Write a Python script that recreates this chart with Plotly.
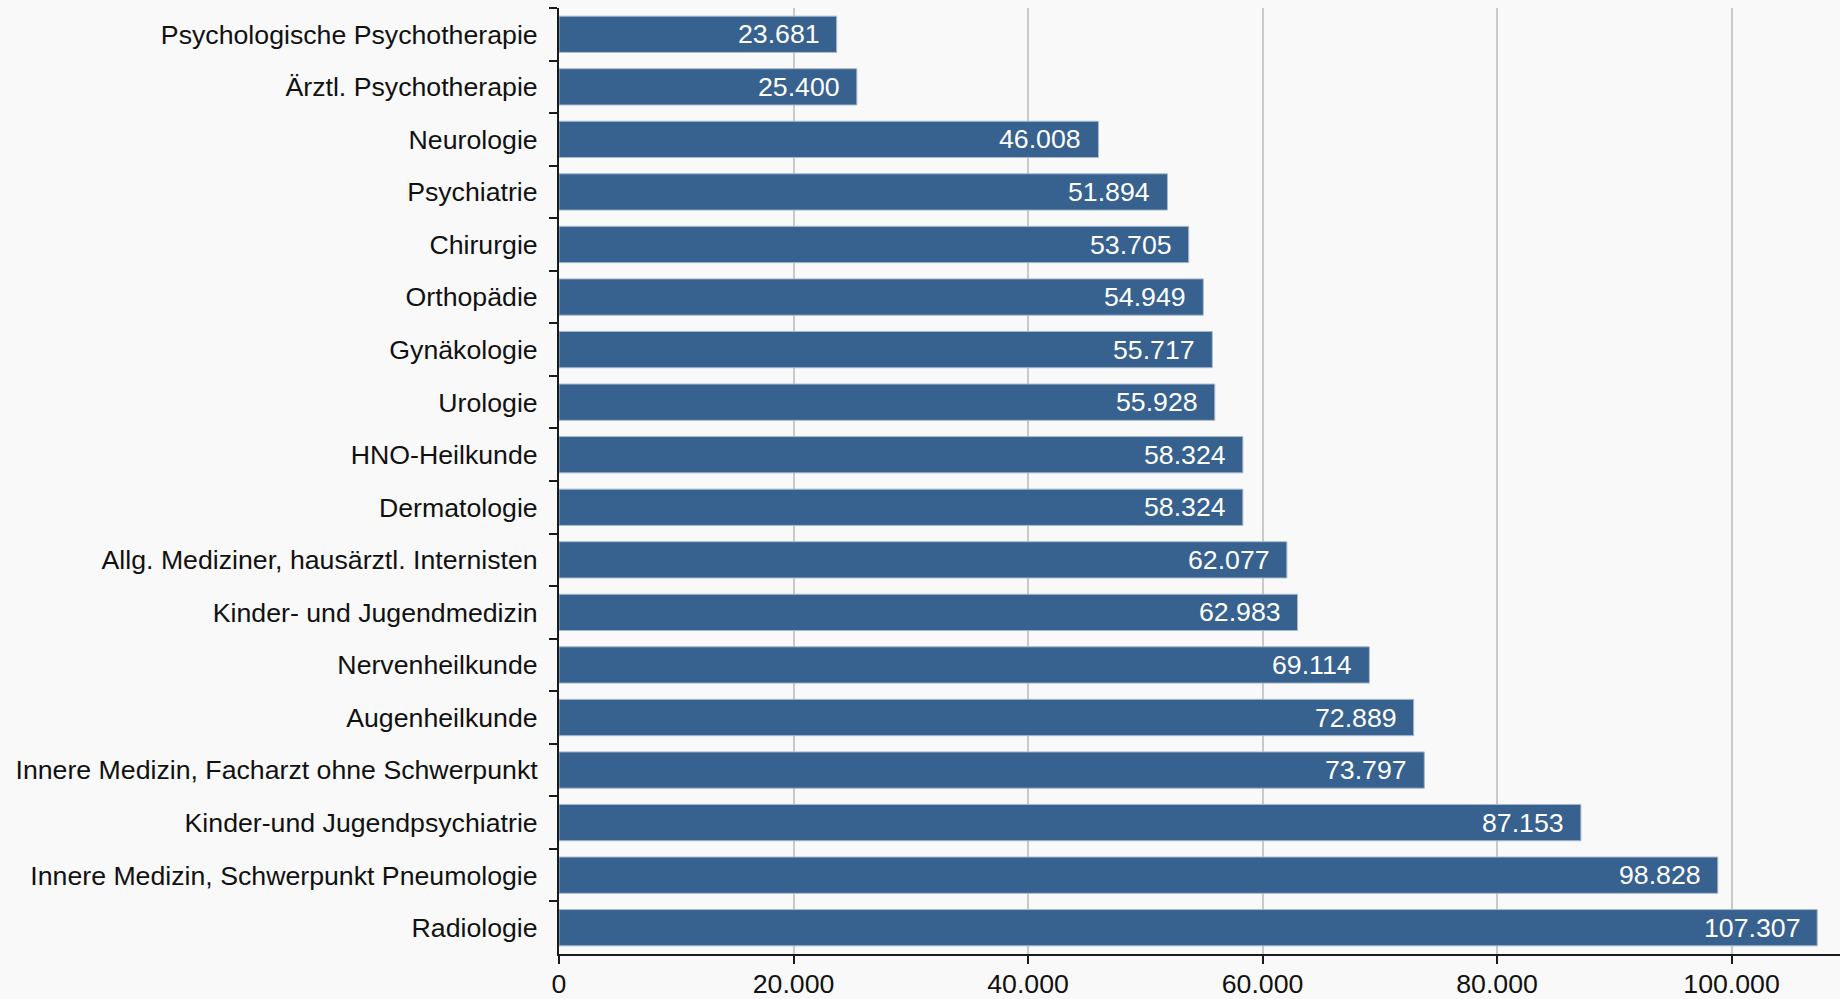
import plotly.graph_objects as go

# Fachgruppen (top to bottom) and their values
categories = [
    "Psychologische Psychotherapie",
    "Ärztl. Psychotherapie",
    "Neurologie",
    "Psychiatrie",
    "Chirurgie",
    "Orthopädie",
    "Gynäkologie",
    "Urologie",
    "HNO-Heilkunde",
    "Dermatologie",
    "Allg. Mediziner, hausärztl. Internisten",
    "Kinder- und Jugendmedizin",
    "Nervenheilkunde",
    "Augenheilkunde",
    "Innere Medizin, Facharzt ohne Schwerpunkt",
    "Kinder-und Jugendpsychiatrie",
    "Innere Medizin, Schwerpunkt Pneumologie",
    "Radiologie",
]
values = [
    23681, 25400, 46008, 51894, 53705, 54949, 55717, 55928, 58324,
    58324, 62077, 62983, 69114, 72889, 73797, 87153, 98828, 107307,
]
x_ticks = [0, 20000, 40000, 60000, 80000, 100000]
x_tick_labels = ["0", "20.000", "40.000", "60.000", "80.000", "100.000"]

FONT = "Liberation Sans, Arial, sans-serif"
FONT_SIZE = 26.7
BAR_COLOR = "#37618f"

def de_format(v):
    return f"{v:,}".replace(",", ".")

fig = go.Figure(
    go.Bar(
        x=values,
        y=categories,
        orientation="h",
        width=0.69,
        marker=dict(color=BAR_COLOR, line=dict(color="#a8b9cc", width=1)),
        hoverinfo="x+y",
    )
)

for cat, v in zip(categories, values):
    fig.add_annotation(
        x=v, y=cat, xref="x", yref="y",
        text=de_format(v),
        showarrow=False,
        xanchor="right", yanchor="middle",
        xshift=-15,
        font=dict(family=FONT, size=FONT_SIZE, color="white"),
    )

fig.update_layout(
    width=1840, height=999,
    margin=dict(l=559, r=0, t=8, b=45, autoexpand=False),
    paper_bgcolor="#f9f9f9",
    plot_bgcolor="#f9f9f9",
    showlegend=False,
    font=dict(family=FONT, size=FONT_SIZE, color="#111111"),
)

fig.update_xaxes(
    range=[0, 109250],
    tickvals=x_ticks,
    ticktext=x_tick_labels,
    showgrid=True, gridcolor="#c9c9c9", gridwidth=2,
    zeroline=False,
    showline=True, linecolor="#1a1a1a", linewidth=2,
    ticks="outside", ticklen=8, tickwidth=2, tickcolor="#1a1a1a",
    ticklabelstandoff=-3,
    tickfont=dict(family=FONT, size=FONT_SIZE, color="#111111"),
    automargin=False,
)

fig.update_yaxes(
    type="category",
    categoryorder="array", categoryarray=categories,
    autorange="reversed",
    showgrid=False, zeroline=False,
    showline=True, linecolor="#1a1a1a", linewidth=2,
    ticks="outside", ticklen=8, tickwidth=2, tickcolor="#1a1a1a",
    tickson="boundaries",
    ticklabelstandoff=14,
    tickfont=dict(family=FONT, size=FONT_SIZE, color="#111111"),
    automargin=False,
)

fig.write_html("out.html")
